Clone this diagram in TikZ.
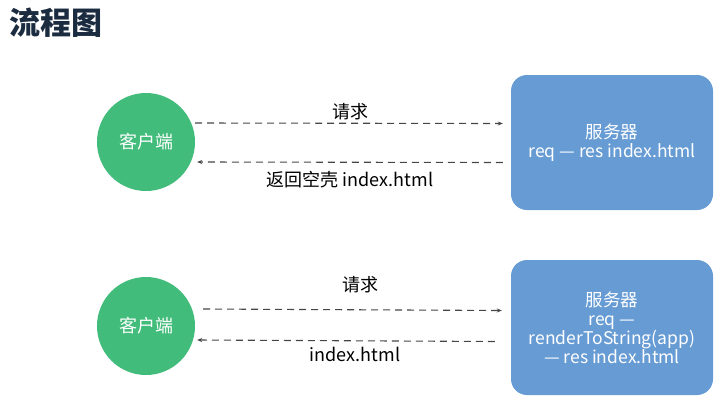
\documentclass[tikz,border=0pt]{standalone}
\usepackage{fontspec}
\setmainfont{Noto Sans CJK SC}
\usepackage{xcolor}
\usetikzlibrary{arrows.meta, positioning}
\definecolor{cligreen}{RGB}{66,188,122}
\definecolor{srvblue}{RGB}{102,155,212}
\definecolor{arrgray}{RGB}{70,70,70}
\definecolor{titlenavy}{RGB}{28,44,64}

\begin{document}
\begin{tikzpicture}[x=1pt, y=-1pt,
    client/.style={circle, fill=cligreen, minimum size=98pt, inner sep=0pt,
                   text=white, font=\fontsize{18}{20}\selectfont},
    server/.style={rectangle, rounded corners=16pt, fill=srvblue, minimum width=202pt,
                   align=center, text=white, font=\fontsize{17.5}{19}\selectfont},
    flow/.style={-{Stealth[length=5pt, width=4pt]}, arrgray, line width=1.1pt,
                 dash pattern=on 7pt off 5pt},
    lbl/.style={font=\fontsize{18}{20}\selectfont, text=black}
]
\useasboundingbox (0,0) rectangle (717,402);
\node[anchor=west, font=\fontsize{31}{34}\selectfont\bfseries, text=titlenavy] (title) at (6,23) {流程图};

% first round: client side rendering
\node[client] (cli1) at (146,142) {客户端};
\node[server, minimum height=135pt] (srv1) at (612,142.5) {服务器\\req — res index.html};
\draw[flow] ([yshift=19pt]cli1.east) -- ([yshift=19pt, xshift=-8pt]srv1.west);
\draw[flow] ([yshift=-20pt, xshift=-8pt]srv1.west) -- ([yshift=-20pt, xshift=2pt]cli1.east);
\node[lbl] (req1) at (350,112) {请求};
\node[lbl] (ret1) at (350,180) {返回空壳 index.html};

% second round: server side rendering
\node[client] (cli2) at (146,326) {客户端};
\node[server, minimum height=135pt] (srv2) at (612,327.5) {服务器\\req —\\renderToString(app)\\— res index.html};
\draw[flow] ([yshift=17pt, xshift=8pt]cli2.east) -- ([yshift=17pt, xshift=-9pt]srv2.west);
\draw[flow] ([yshift=-14pt, xshift=-16pt]srv2.west) -- ([yshift=-14pt, xshift=2pt]cli2.east);
\node[lbl] (req2) at (360,285) {请求};
\node[lbl] (ret2) at (355,354) {index.html};
\end{tikzpicture}
\end{document}
